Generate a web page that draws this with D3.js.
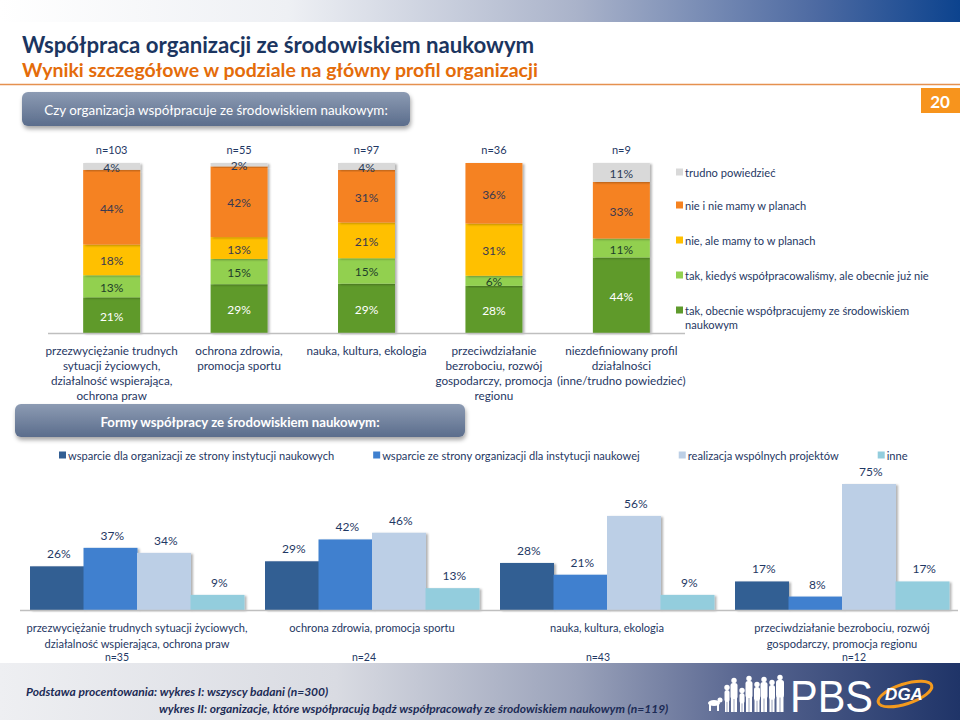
<!DOCTYPE html>
<html><head><meta charset="utf-8">
<script src="https://cdn.jsdelivr.net/npm/d3@7"></script>
<style>body{margin:0;background:#fff} svg{display:block;font-family:Lato,'Open Sans',sans-serif}</style>
</head><body><svg id="c" width="960" height="720"></svg>
<script>
// ---------- DATA: chart I ----------
const profiles1 = [
  ["przezwyciężanie trudnych","sytuacji życiowych,","działalność wspierająca,","ochrona praw"],
  ["ochrona zdrowia,","promocja sportu"],
  ["nauka, kultura, ekologia"],
  ["przeciwdziałanie","bezrobociu, rozwój","gospodarczy, promocja","regionu"],
  ["niezdefiniowany profil","działalności","(inne/trudno powiedzieć)"]
];
const sampleSizes1 = ["n=103","n=55","n=97","n=36","n=9"];
const answers = ["tak, obecnie współpracujemy ze środowiskiem naukowym","tak, kiedyś współpracowaliśmy, ale obecnie już nie","nie, ale mamy to w planach","nie i nie mamy w planach","trudno powiedzieć"];
const takObecnie  = [21,29,29,28,44];
const takKiedys   = [13,15,15,6,11];
const nieWPlanach = [18,13,21,31,0];
const nieINie     = [44,42,31,36,33];
const trudno      = [4,2,4,0,11];

// ---------- DATA: chart II ----------
const forms = ["wsparcie dla organizacji ze strony instytucji naukowych","wsparcie ze strony organizacji dla instytucji naukowej","realizacja wspólnych projektów","inne"];
const profiles2 = [
  ["przezwyciężanie trudnych sytuacji życiowych,","działalność wspierająca, ochrona praw"],
  ["ochrona zdrowia, promocja sportu"],
  ["nauka, kultura, ekologia"],
  ["przeciwdziałanie bezrobociu, rozwój","gospodarczy, promocja regionu"]
];
const sampleSizes2 = ["n=35","n=24","n=43","n=12"];
const wsparcieDla = [26,29,28,17];
const wsparcieZe  = [37,42,21,8];
const realizacja  = [34,46,56,75];
const inne        = [9,13,9,17];

// ---------- STYLE ----------
const navy = "#1f3864";
const colors1 = ["#5e9a2c","#92d050","#ffc000","#f58220","#d9d9d9"];
const labelColors1 = ["#ffffff","#1f3f2a","#3a3a50","#3a3a50","#2b3a55"];
const colors2 = ["#325e93","#3f80cf","#bccfe6","#93cddd"];

const svg = d3.select("#c");
const defs = svg.append("defs");
function lin(id, stops, vertical){
  const g = defs.append("linearGradient").attr("id",id)
    .attr("x1",0).attr("y1",0).attr("x2",vertical?0:1).attr("y2",vertical?1:0);
  stops.forEach(s=>g.append("stop").attr("offset",s[0]).attr("stop-color",s[1]));
}
lin("topg",[[0,"#ffffff"],[0.3,"#eef0f4"],[0.6,"#aab3ca"],[0.85,"#4d6aa2"],[1,"#0c438e"]]);
lin("footg",[[0,"#eeeff2"],[0.35,"#d9dbe2"],[0.6,"#9aa2ba"],[0.78,"#56648f"],[1,"#1f3468"]]);
lin("btng",[[0,"#8c9bb3"],[1,"#5b6d8c"]],true);
const f = defs.append("filter").attr("id","sh").attr("x","-10%").attr("y","-10%").attr("width","130%").attr("height","130%");
f.append("feDropShadow").attr("dx",2).attr("dy",1).attr("stdDeviation",1.2).attr("flood-color","#000").attr("flood-opacity",0.3);
const f2 = defs.append("filter").attr("id","bsh").attr("x","-5%").attr("y","-20%").attr("width","115%").attr("height","160%");
f2.append("feDropShadow").attr("dx",1).attr("dy",3).attr("stdDeviation",2).attr("flood-color","#000").attr("flood-opacity",0.35);

// ---------- HEADER ----------
svg.append("rect").attr("x",0).attr("y",0).attr("width",960).attr("height",22).attr("fill","url(#topg)");
svg.append("text").attr("x",22).attr("y",53).attr("fill","#1b3560").attr("font-size",22.2).attr("font-weight",700)
  .text("Współpraca organizacji ze środowiskiem naukowym");
svg.append("text").attr("x",22).attr("y",77).attr("fill","#e46c0a").attr("font-size",19.5).attr("font-weight",700)
  .text("Wyniki szczegółowe w podziale na główny profil organizacji");
svg.append("line").attr("x1",0).attr("x2",960).attr("y1",84.5).attr("y2",84.5).attr("stroke","#e5914f").attr("stroke-width",1.5);
svg.append("rect").attr("x",921).attr("y",88).attr("width",39).attr("height",25).attr("fill","#f7941d");
svg.append("text").attr("x",940).attr("y",101).attr("text-anchor","middle").attr("dominant-baseline","central")
  .attr("fill","#fff").attr("font-size",17).attr("font-weight",700).text("20");

function button(x,y,w,h,txt,fs,fw){
  svg.append("rect").attr("x",x).attr("y",y).attr("width",w).attr("height",h).attr("rx",6)
    .attr("fill","url(#btng)").attr("filter","url(#bsh)");
  svg.append("text").attr("x",x+w/2).attr("y",y+h/2+1).attr("text-anchor","middle").attr("dominant-baseline","central")
    .attr("fill","#fff").attr("font-size",fs).attr("font-weight",fw).text(txt);
}
button(22,92,388,34,"Czy organizacja współpracuje ze środowiskiem naukowym:",13.4,400);
button(15,404,450,33,"Formy współpracy ze środowiskiem naukowym:",13.2,700);

// ---------- CHART I: 100% stacked ----------
const idx1 = d3.range(profiles1.length);
const series1 = [takObecnie,takKiedys,nieWPlanach,nieINie,trudno];
const rows1 = idx1.map(i=>{const o={i}; series1.forEach((s,k)=>o[k]=s[i]); return o;});
const stack1 = d3.stack().keys(d3.range(series1.length)).offset(d3.stackOffsetExpand)(rows1);
const x1 = d3.scaleBand().domain(idx1).range([48,685]).paddingInner(0.553).paddingOuter(0.276);
const y1 = d3.scaleLinear().domain([0,1]).range([333,163]);

const g1 = svg.append("g");
stack1.forEach((layer,k)=>{
  g1.append("g").selectAll("rect").data(layer.filter(d=>d[1]-d[0]>0)).join("rect")
    .attr("x",d=>x1(d.data.i)).attr("width",x1.bandwidth())
    .attr("y",d=>y1(d[1])).attr("height",d=>y1(d[0])-y1(d[1]))
    .attr("fill",colors1[k]).attr("filter","url(#sh)");
});
stack1.forEach((layer,k)=>{
  g1.append("g").selectAll("text").data(layer.filter(d=>series1[k][d.data.i]>0)).join("text")
    .attr("x",d=>x1(d.data.i)+x1.bandwidth()/2)
    .attr("y",d=>(y1(d[0])+y1(d[1]))/2+1)
    .attr("text-anchor","middle").attr("dominant-baseline","central")
    .attr("font-size",12).attr("fill",labelColors1[k])
    .text(d=>series1[k][d.data.i]+"%");
});
svg.append("line").attr("x1",48).attr("x2",685).attr("y1",333.5).attr("y2",333.5).attr("stroke","#bfbfbf").attr("stroke-width",1.5);
svg.append("g").selectAll("text").data(idx1).join("text")
  .attr("x",i=>x1(i)+x1.bandwidth()/2).attr("y",149).attr("text-anchor","middle").attr("dominant-baseline","central")
  .attr("font-size",11).attr("fill",navy).text(i=>sampleSizes1[i]);
idx1.forEach(i=>{
  const t = svg.append("text").attr("text-anchor","middle")
    .attr("dominant-baseline","central").attr("font-size",11.7).attr("fill",navy);
  profiles1[i].forEach((ln,j)=>t.append("tspan").attr("x",x1(i)+x1.bandwidth()/2).attr("y",350+j*15).text(ln));
});
// legend I
const leg1Y = [310,275,240,205,172];
answers.forEach((a,k)=>{
  svg.append("rect").attr("x",676).attr("y",leg1Y[k]-3.5).attr("width",7).attr("height",7).attr("fill",colors1[k]);
  const t = svg.append("text").attr("x",685).attr("y",leg1Y[k]).attr("dominant-baseline","central")
    .attr("font-size",11.1).attr("fill",navy);
  if(k===0){
    t.append("tspan").attr("x",685).attr("y",leg1Y[k]).text("tak, obecnie współpracujemy ze środowiskiem");
    t.append("tspan").attr("x",685).attr("y",leg1Y[k]+14).text("naukowym");
  } else t.text(a);
});

// ---------- CHART II: grouped ----------
const idx2 = d3.range(profiles2.length);
const series2 = [wsparcieDla,wsparcieZe,realizacja,inne];
const x2 = d3.scaleBand().domain(idx2).range([20,959]).paddingInner(0.0894).paddingOuter(0.0426);
const xs = d3.scaleBand().domain(d3.range(series2.length)).range([0,x2.bandwidth()]);
const y2 = d3.scaleLinear().domain([0,100]).range([610,442]);
const g2 = svg.append("g");
idx2.forEach(i=>{
  const gg = g2.append("g").attr("transform",`translate(${x2(i)},0)`);
  const dd = series2.map((s,k)=>({k,v:s[i]}));
  gg.selectAll("rect").data(dd).join("rect")
    .attr("x",d=>xs(d.k)).attr("width",xs.bandwidth()+0.5)
    .attr("y",d=>y2(d.v)).attr("height",d=>y2(0)-y2(d.v))
    .attr("fill",d=>colors2[d.k]).attr("filter","url(#sh)");
  gg.selectAll("text").data(dd).join("text")
    .attr("x",d=>xs(d.k)+xs.bandwidth()/2+2).attr("y",d=>y2(d.v)-12.5)
    .attr("text-anchor","middle").attr("dominant-baseline","central")
    .attr("font-size",12).attr("fill",navy).text(d=>d.v+"%");
});
svg.append("line").attr("x1",20).attr("x2",958).attr("y1",610.5).attr("y2",610.5).attr("stroke","#bfbfbf").attr("stroke-width",1.5);
const nOff = [-20,-8,-9,12];
idx2.forEach(i=>{
  const cx = x2(i)+x2.bandwidth()/2;
  const t = svg.append("text").attr("text-anchor","middle").attr("dominant-baseline","central")
    .attr("font-size",11.1).attr("fill",navy);
  profiles2[i].forEach((ln,j)=>t.append("tspan").attr("x",cx).attr("y",627+j*15.5).text(ln));
  svg.append("text").attr("x",cx+nOff[i]).attr("y",657).attr("text-anchor","middle").attr("dominant-baseline","central")
    .attr("font-size",10.5).attr("fill",navy).text(sampleSizes2[i]);
});
// legend II
let lx = 59;
forms.forEach((fm,k)=>{
  svg.append("rect").attr("x",lx).attr("y",451.5).attr("width",7).attr("height",7).attr("fill",colors2[k]);
  const t = svg.append("text").attr("x",lx+9).attr("y",455).attr("dominant-baseline","central")
    .attr("font-size",11.1).attr("fill",navy).text(fm);
  lx += 9 + t.node().getComputedTextLength() + 39;
});

// ---------- FOOTER ----------
svg.append("rect").attr("x",0).attr("y",663).attr("width",960).attr("height",57).attr("fill","url(#footg)");
svg.append("text").attr("x",26).attr("y",691).attr("dominant-baseline","central").attr("font-size",12)
  .attr("font-weight",700).attr("font-style","italic").attr("fill","#1c2b55")
  .text("Podstawa procentowania: wykres I: wszyscy badani (n=300)");
svg.append("text").attr("x",159).attr("y",708).attr("dominant-baseline","central").attr("font-size",12)
  .attr("font-weight",700).attr("font-style","italic").attr("fill","#1c2b55")
  .text("wykres II: organizacje, które współpracują bądź współpracowały ze środowiskiem naukowym (n=119)");
// logo: people silhouettes
const people = svg.append("g").attr("fill","#fff");
const figs = [[727,22,5],[734,29,7],[742,19,5],[749,31,7],[757,25,6],[764,30,7],[772,27,6],[780,32,8]];
figs.forEach(([px,h,w])=>{
  people.append("circle").attr("cx",px).attr("cy",712-h-2.5).attr("r",2.7);
  people.append("rect").attr("x",px-w/2).attr("y",712-h).attr("width",w).attr("height",h*0.55).attr("rx",2.5);
  people.append("rect").attr("x",px-w/2+0.5).attr("y",712-h*0.5).attr("width",w/2-0.8).attr("height",h*0.5);
  people.append("rect").attr("x",px+0.3).attr("y",712-h*0.5).attr("width",w/2-0.8).attr("height",h*0.5);
});
people.append("ellipse").attr("cx",714).attr("cy",703).attr("rx",6).attr("ry",3);
people.append("rect").attr("x",709).attr("y",704).attr("width",2).attr("height",7);
people.append("rect").attr("x",717).attr("y",704).attr("width",2).attr("height",7);
people.append("circle").attr("cx",720).attr("cy",700).attr("r",2.5);
svg.append("text").attr("x",790).attr("y",712).attr("font-family","'Liberation Sans',Arial,sans-serif")
  .attr("font-size",44).attr("fill","#fff").attr("textLength",83).attr("lengthAdjust","spacingAndGlyphs").text("PBS");
svg.append("ellipse").attr("cx",905).attr("cy",694).attr("rx",28).attr("ry",10)
  .attr("transform","rotate(-18,905,694)").attr("fill","none").attr("stroke","#f39a1e").attr("stroke-width",3);
svg.append("text").attr("x",904).attr("y",700).attr("text-anchor","middle").attr("font-family","'Liberation Sans',Arial,sans-serif")
  .attr("font-size",17).attr("font-weight",700).attr("font-style","italic").attr("fill","#fff").text("DGA");
</script></body></html>
